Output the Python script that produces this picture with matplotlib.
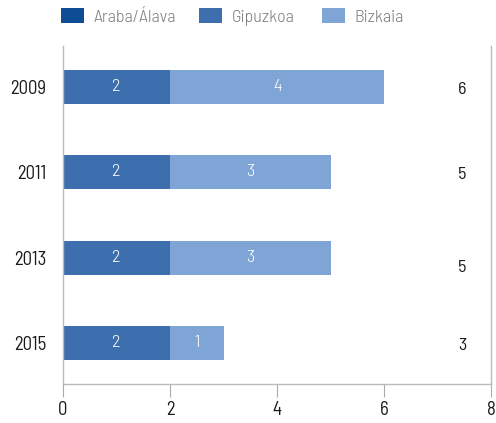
import numpy as np
import matplotlib.pyplot as plt

years = ['2009', '2011', '2013', '2015']
araba = [0, 0, 0, 0]
gipuzkoa = [2, 2, 2, 2]
bizkaia = [4, 3, 3, 1]
series = ['Araba/Álava', 'Gipuzkoa', 'Bizkaia']
colors = ['#0E4C96', '#3D6EAD', '#7FA5D6']

plt.rcParams['font.family'] = ['Barlow Semi Condensed', 'DejaVu Sans']
plt.rcParams['font.weight'] = 300

fig = plt.figure(figsize=(4.96, 4.23), dpi=100)
ax = fig.add_axes([63 / 496, 1 - 384 / 423, 428 / 496, 338 / 423])

y = np.arange(len(years))[::-1]
left = np.zeros(len(years))
handles = []
for name, vals, c in zip(series, [araba, gipuzkoa, bizkaia], colors):
    vals = np.array(vals, dtype=float)
    b = ax.barh(y, vals, left=left, height=0.4, color=c, label=name)
    handles.append(b)
    for yi, l, v in zip(y, left, vals):
        if v > 0:
            ax.text(l + v / 2, yi, f'{int(v)}', ha='center', va='center',
                    color='white', fontsize=13)
    left += vals

totals = left
offsets = [-0.03, -0.03, -0.11, -0.03]
for yi, t, o in zip(y, totals, offsets):
    ax.text(7.46, yi + o, f'{int(t)}', ha='center', va='center',
            color='#1a1a1a', fontsize=13, fontweight=400)

ax.set_xlim(0, 8)
ax.set_ylim(-0.48, 3.48)
ax.set_xticks([0, 2, 4, 6, 8])
ax.set_yticks(y)
ax.set_yticklabels(years)
ax.tick_params(axis='y', length=0, pad=12, labelsize=13.5, labelcolor='#1a1a1a')
ax.tick_params(axis='x', length=9, direction='out', color='#aaaaaa',
               labelsize=13.5, labelcolor='#1a1a1a', pad=3)
for lab in ax.get_xticklabels() + ax.get_yticklabels():
    lab.set_fontweight(400)
for s in ['left', 'right', 'bottom']:
    ax.spines[s].set_color('#bbbbbb')
    ax.spines[s].set_linewidth(1)
ax.spines['top'].set_visible(False)

# one legend entry per block so each sits where the reference has it
leg_x = [61, 199, 322]
for h, name, lx in zip(handles, series, leg_x):
    leg = fig.legend([h], [name], loc='center left',
                     bbox_to_anchor=(lx / 496, 1 - 17 / 423),
                     frameon=False, fontsize=13, handlelength=1.25,
                     handleheight=0.85, handletextpad=0.55,
                     borderpad=0, borderaxespad=0)
    for t in leg.get_texts():
        t.set_color('#7f7f7f')

fig.savefig('out.png', dpi=100)
